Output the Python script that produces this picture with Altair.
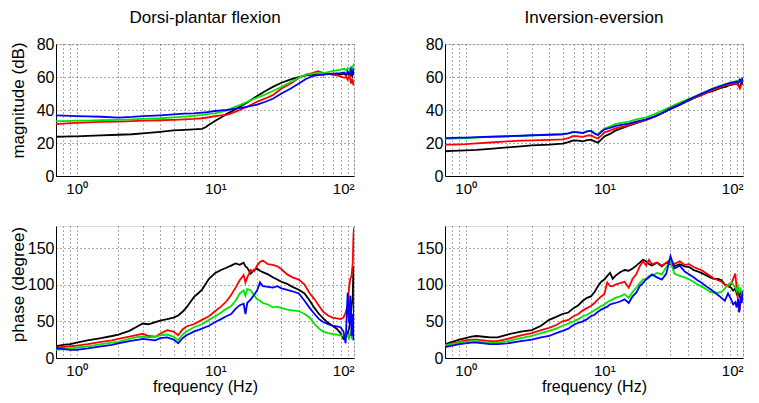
import altair as alt
import pandas as pd

FONT = "Liberation Sans"
SERIES = ["black", "red", "green", "blue"]
COLORS = {"black": "#000000", "red": "#ff0000", "green": "#00e600", "blue": "#0000ff"}

# ---------- Dorsi-plantar flexion : magnitude (dB) ----------
F_DP_MAG = [0.71, 0.8, 0.9, 1.0, 1.2, 1.5, 2.0, 2.5, 3.0, 4.0, 5.0, 6.0, 7.0, 8.0, 8.5, 9.0,
            10, 11, 12, 13, 14, 15, 17, 20, 23, 26, 30, 35, 40, 45, 50, 55, 60, 65, 70, 75,
            80, 85, 88, 90, 93, 95, 97, 99, 100]
DP_MAG_BLACK = [23.8, 23.9, 24, 24, 24.3, 24.6, 25, 25.3, 25.8, 26.8, 27.6, 28, 28.3, 28.6, 29.5, 31,
                33.5, 35.5, 37.5, 39, 40.5, 42, 44.5, 48.5, 51.5, 54, 56.5, 58.5, 60, 61, 61.5, 62, 61.5, 62, 61.5, 62,
                61.5, 62, 61, 62.5, 61, 62, 60.5, 62.5, 61.5]
DP_MAG_RED = [31.5, 31.8, 32, 32.2, 32.5, 32.8, 33, 33.2, 33.5, 33.8, 34, 34.3, 34.6, 35, 35.3, 35.6,
              36.3, 36.7, 37, 38, 39, 40, 42, 45, 47, 49, 53, 56, 59.4, 61.4, 62.4, 63.5, 62.4, 62, 61.4, 61,
              60.4, 59.5, 60, 58.4, 61, 56, 59, 55, 58]
DP_MAG_GREEN = [33.3, 33.3, 33.4, 33.5, 33.6, 33.8, 34, 34.3, 34.6, 35, 35.5, 36, 36.5, 37, 37.3, 37.6,
                38, 38.8, 39.6, 40.8, 42, 43, 45, 47.5, 49.5, 51.5, 54, 57, 59.5, 61.4, 62, 62.4, 62.4, 63, 63.5, 64,
                64.5, 65, 64, 65.5, 64.5, 66, 65, 67, 66]
DP_MAG_BLUE = [36.7, 36.6, 36.4, 36.3, 36.1, 35.9, 35.4, 35.8, 36.3, 36.8, 37.3, 37.8, 38, 38.4, 38.6, 38.8,
               39.4, 39.8, 40, 40.4, 40.8, 41.2, 42, 43.2, 45, 46.8, 50, 53, 56, 58.8, 60.5, 61.2, 61.5, 61.8, 62, 62.2,
               62.4, 62.8, 61.5, 63.5, 62, 64.5, 61, 65, 63]

# ---------- Inversion-eversion : magnitude (dB) ----------
F_IE_MAG = [0.71, 0.8, 0.9, 1.0, 1.2, 1.5, 2.0, 2.5, 3.0, 4.0, 5.0, 5.5, 6.0, 6.5, 7.0, 7.5, 8.0, 8.5,
            9.0, 9.5, 10, 11, 12, 13, 15, 17, 20, 23, 26, 30, 35, 40, 45, 50, 55, 60, 65, 70, 75, 80,
            85, 90, 93, 95, 97, 100]
IE_MAG_BLACK = [15, 15.2, 15.4, 15.5, 15.8, 16.5, 17.3, 18, 18.5, 19, 19.6, 20.5, 21.6, 21.5, 21, 21.8, 22, 21,
                20.2, 22, 24, 25.5, 27.5, 28.5, 30.5, 32, 34, 36, 38, 40.5, 43, 45.5, 47.5, 49, 50.5, 51.5, 52.5, 53.5, 54, 55,
                55.5, 56, 55, 54, 56, 57]
IE_MAG_RED = [19, 19, 19.2, 19.3, 19.8, 20.3, 21, 21.4, 21.6, 21.9, 22.2, 23, 24.3, 24, 23.7, 24.5, 24.7, 23.5,
              22.7, 24.5, 26.5, 27.5, 28.8, 29.5, 30.8, 32.3, 34, 36, 38, 41, 43.5, 46, 47.5, 49, 50.5, 52, 53, 54.3, 55, 55.3,
              56, 56.3, 54.5, 53, 55, 56]
IE_MAG_GREEN = [22.5, 22.6, 22.8, 23, 23.3, 23.7, 24, 24.3, 24.6, 25, 25.3, 25.8, 26.7, 26.5, 26.2, 27, 27.5, 26,
                25.2, 27.2, 28.7, 30, 31.4, 32, 33, 34.3, 35.5, 37.5, 39.5, 42, 44.5, 46.5, 48.3, 50, 51.5, 53, 54, 55, 55.7, 56.5,
                57, 57.5, 58, 57.5, 58.5, 59.5]
IE_MAG_BLUE = [23, 23.1, 23.2, 23.3, 23.5, 23.8, 24.1, 24.4, 24.7, 25, 25.3, 25.8, 26.7, 26.5, 26, 27, 27.3, 25.8,
               24.7, 26.8, 28.2, 29.2, 30.2, 30.8, 31.8, 33, 34.3, 36, 38, 41, 43.5, 46, 48, 49.8, 51.3, 52.7, 53.8, 54.7, 55.5, 56.3,
               56.8, 57.3, 56.5, 58.5, 57, 59.4]

# ---------- Dorsi-plantar flexion : phase (degree) ----------
F_DP_PH = [0.71, 0.8, 0.9, 1.0, 1.2, 1.5, 1.8, 2.0, 2.4, 2.8, 3.0, 3.3, 3.7, 4.0, 4.5, 5.0, 5.4, 5.8, 6.2,
           7.0, 7.5, 8.0, 9.0, 10, 11, 12, 13, 14, 15, 16, 16.5, 17, 18, 19, 20, 21, 22, 24, 26, 28, 30,
           33, 36, 40, 44, 48, 52, 56, 60, 65, 70, 75, 80, 84, 87, 90, 92, 94, 96, 98, 99, 100]
DP_PH_BLACK = [16, 18, 19, 21, 24, 27, 30, 32, 37, 44, 47, 46, 49, 51, 53, 55, 58, 63, 69,
               83, 88, 93, 108, 116, 120, 123, 126, 129, 127, 130, 125, 123, 115, 120, 122, 119, 117, 114, 110, 107, 104,
               101, 97, 93, 88, 78, 68, 60, 54, 48, 44, 40, 34, 26, 28, 33, 40, 50, 70, 85, 125, 95]
DP_PH_RED = [14, 15, 16, 17, 19, 22, 24, 26, 29, 32, 33, 30, 29, 33, 38, 36, 31, 39, 43,
             46, 49, 52, 57, 64, 70, 77, 86, 96, 106, 113, 103, 110, 120, 118, 126, 131, 133, 128, 127, 125, 121,
             114, 110, 107, 100, 88, 80, 71, 63, 58, 55, 54, 53, 55, 62, 72, 95, 108, 112, 130, 165, 178]
DP_PH_GREEN = [11, 12, 13, 14, 16, 19, 21, 22, 26, 29, 29, 28, 29, 31, 32, 29, 24, 32, 36,
               42, 44, 46, 52, 57, 62, 67, 71, 78, 88, 92, 85, 94, 92, 86, 80, 78, 75, 73, 69, 70, 68,
               66, 65, 64, 60, 55, 46, 40, 36, 34, 33, 32, 31, 30, 28, 31, 27, 34, 29, 36, 40, 33]
DP_PH_BLUE = [13, 12, 11, 11, 13, 16, 18, 20, 23, 25, 26, 25, 24, 27, 28, 25, 20, 27, 31,
              36, 38, 40, 44, 49, 53, 57, 60, 67, 72, 74, 60, 75, 80, 86, 92, 103, 98, 97, 96, 98, 95,
              93, 91, 88, 78, 68, 60, 53, 49, 46, 44, 43, 42, 36, 20, 89, 48, 85, 30, 60, 24, 94]

# ---------- Inversion-eversion : phase (degree) ----------
F_IE_PH = [0.71, 0.8, 0.9, 1.0, 1.1, 1.2, 1.35, 1.5, 1.7, 2.0, 2.5, 3.0, 3.5, 4.0, 4.5, 5.0, 5.5, 6.0,
           6.5, 7.0, 7.5, 8.0, 8.5, 9.0, 9.5, 10, 10.5, 11, 11.5, 12, 13, 14, 15, 16, 17, 18, 19, 20,
           21, 22, 24, 26, 28, 30, 32, 35, 38, 41, 44, 47, 50, 54, 58, 62, 66, 70, 74, 78, 82, 85,
           88, 90, 92, 94, 96, 98, 100]
IE_PH_BLACK = [19, 22, 25, 27, 29, 30, 29, 28, 28, 32, 36, 38, 44, 52, 56, 60, 62, 68,
               72, 78, 82, 84, 90, 98, 104, 107, 112, 116, 108, 112, 117, 120, 119, 122, 126, 130, 134, 132,
               128, 126, 130, 125, 130, 128, 125, 128, 125, 124, 120, 118, 116, 113, 110, 108, 108, 106, 100, 98, 96, 92,
               95, 88, 92, 85, 90, 86, 88]
IE_PH_RED = [18, 20, 22, 24, 25, 25, 24, 23, 23, 26, 31, 34, 38, 41, 45, 50, 52, 57,
             60, 65, 68, 71, 75, 80, 84, 87, 103, 98, 98, 100, 102, 104, 96, 108, 114, 125, 132, 126,
             134, 128, 130, 126, 130, 134, 128, 132, 127, 128, 124, 122, 120, 116, 112, 108, 106, 104, 100, 98, 100, 108,
             115, 95, 80, 64, 75, 84, 82]
IE_PH_GREEN = [17, 19, 21, 22, 23, 23, 22, 21, 21, 23, 27, 30, 34, 37, 40, 44, 47, 50,
               53, 57, 59, 62, 65, 68, 71, 73, 76, 78, 80, 82, 84, 87, 82, 90, 96, 102, 107, 108,
               112, 112, 116, 114, 124, 132, 115, 112, 110, 107, 104, 100, 98, 94, 90, 89, 89, 90, 95, 100, 103, 100,
               96, 92, 98, 90, 94, 88, 92]
IE_PH_BLUE = [15, 17, 19, 20, 21, 21, 20, 19, 19, 20, 23, 25, 28, 30, 34, 37, 40, 45,
              48, 50, 53, 57, 59, 63, 66, 68, 70, 73, 74, 75, 77, 80, 75, 84, 89, 98, 102, 107,
              110, 114, 110, 107, 115, 139, 122, 126, 118, 114, 110, 106, 103, 98, 94, 90, 86, 82, 78, 88, 80, 73,
              76, 69, 80, 62, 85, 75, 91]

X_TICKS = [0.8, 0.9, 1, 2, 3, 4, 5, 6, 7, 8, 9, 10, 20, 30, 40, 50, 60, 70, 80, 90, 100]
X_LABEL_EXPR = ("datum.value == 1 ? '10\u2070' : (datum.value == 10 ? '10\u00b9' : "
                "(datum.value == 100 ? '10\u00b2' : ''))")
MAG_TICKS = [0, 20, 40, 60, 80]
PH_TICKS = [0, 50, 100, 150]

GRID = dict(grid=True, gridDash=[1, 3], gridColor="#555555", gridWidth=1, gridOpacity=1,
            ticks=False, domainColor="#000000", domainWidth=1, labelColor="#000000",
            labelFont=FONT, titleFont=FONT, titleColor="#000000", titleFontWeight="normal")


def panel(freqs, values, ydomain, yticks, ytitle=None, xtitle=None, title=None, left=True, title_y=66):
    xaxis = alt.Axis(values=X_TICKS, labelExpr=X_LABEL_EXPR, labelFontSize=15, labelOverlap=False,
                     labelPadding=5, minExtent=20, maxExtent=20, title=xtitle,
                     titleFontSize=16, titlePadding=0, **GRID)
    ext = 27 if left else 30
    yextra = {"titleY": title_y} if ytitle else {}
    yaxis = alt.Axis(values=yticks, labelFontSize=16, labelPadding=2, minExtent=ext, maxExtent=ext,
                     title=ytitle, titleFontSize=17, titlePadding=2, **yextra, **GRID)
    layers = []
    for name, vals in zip(SERIES, values):
        df = pd.DataFrame({"f": freqs, "v": vals})
        layers.append(
            alt.Chart(df).mark_line(color=COLORS[name], strokeWidth=1.8, clip=True).encode(
                x=alt.X("f:Q", scale=alt.Scale(type="log", domain=[0.71, 100], nice=False), axis=xaxis),
                y=alt.Y("v:Q", scale=alt.Scale(domain=ydomain, nice=False), axis=yaxis),
            )
        )
    ch = alt.layer(*layers).properties(width=298, height=132)
    if title:
        ch = ch.properties(title=alt.TitleParams(title, fontSize=17, fontWeight="normal", font=FONT,
                                                 color="#000000", offset=9, anchor="middle"))
    return ch


tl = panel(F_DP_MAG, [DP_MAG_BLACK, DP_MAG_RED, DP_MAG_GREEN, DP_MAG_BLUE], [0, 80], MAG_TICKS,
           ytitle="magnitude (dB)", title="Dorsi-plantar flexion", title_y=56)
tr = panel(F_IE_MAG, [IE_MAG_BLACK, IE_MAG_RED, IE_MAG_GREEN, IE_MAG_BLUE], [0, 80], MAG_TICKS,
           title="Inversion-eversion", left=False)
bl = panel(F_DP_PH, [DP_PH_BLACK, DP_PH_RED, DP_PH_GREEN, DP_PH_BLUE], [0, 180], PH_TICKS,
           ytitle="phase (degree)", xtitle="frequency (Hz)", title_y=58)
br = panel(F_IE_PH, [IE_PH_BLACK, IE_PH_RED, IE_PH_GREEN, IE_PH_BLUE], [0, 180], PH_TICKS,
           xtitle="frequency (Hz)", left=False)

chart = alt.vconcat(
    alt.hconcat(tl, tr, spacing=59),
    alt.hconcat(bl, br, spacing=59),
    spacing=28,
).properties(
    padding={"left": 0, "top": 0, "right": 0, "bottom": 0},
    background="#ffffff",
).configure_view(strokeWidth=0).configure(font=FONT)

chart.save("out.html", embed_options={"renderer": "svg", "actions": False})
